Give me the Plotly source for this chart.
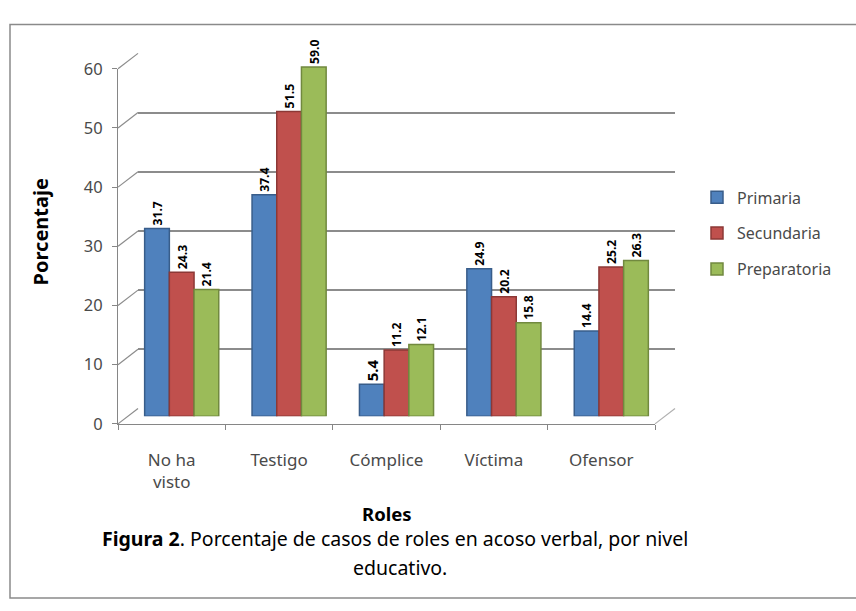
import plotly.graph_objects as go

W, H = 856, 611

categories = ["No ha<br>visto", "Testigo", "Cómplice", "Víctima", "Ofensor"]
primaria = [31.7, 37.4, 5.4, 24.9, 14.4]
secundaria = [24.3, 51.5, 11.2, 20.2, 25.2]
preparatoria = [21.4, 59.0, 12.1, 15.8, 26.3]
series_names = ["Primaria", "Secundaria", "Preparatoria"]
colors = ["#4F81BD", "#C0504D", "#9BBB59"]
edge_colors = ["#385D8A", "#8C3836", "#71893F"]
y_ticks = [0, 10, 20, 30, 40, 50, 60]


def px_x(x):
    return x / W


def px_y(y):
    return 1 - y / H


FONT = "Noto Sans"
GREY = "#4A4A4A"

fig = go.Figure()
# back wall gridlines (subplot xy, drawn first)
fig.add_trace(go.Scatter(x=categories, y=[None] * 5, xaxis="x", yaxis="y",
                         showlegend=False, hoverinfo="skip"))
# front axis (tick labels / categories)
fig.add_trace(go.Scatter(x=categories, y=[None] * 5, xaxis="x2", yaxis="y2",
                         showlegend=False, hoverinfo="skip"))
for name, vals, c, ec in zip(series_names, [primaria, secundaria, preparatoria], colors, edge_colors):
    fig.add_trace(go.Bar(
        x=categories, y=vals, name=name,
        marker=dict(color=c, line=dict(color=ec, width=1.5)),
        text=[f"{v:.1f}" for v in vals],
        textposition="outside", textangle=-90,
        textfont=dict(family=FONT, size=15, color="black", weight="bold"),
        cliponaxis=False,
        legendgroup=name,
        xaxis="x3", yaxis="y3",
    ))

fig.update_layout(
    width=W, height=H,
    margin=dict(l=0, r=0, t=0, b=0),
    paper_bgcolor="white", plot_bgcolor="rgba(0,0,0,0)",
    barmode="group", bargap=0.31, bargroupgap=0.0,
    font=dict(family=FONT, color=GREY),
    xaxis=dict(domain=[px_x(138), px_x(675)], range=[-0.5, 4.5], type="category",
               anchor="y", visible=False),
    yaxis=dict(domain=[px_y(412), px_y(43)], range=[0, 60], anchor="x",
               tickvals=y_ticks, showgrid=True, gridcolor="#8C8C8C", gridwidth=1.5,
               showticklabels=False, zeroline=False, showline=False, ticks=""),
    xaxis2=dict(domain=[px_x(118), px_x(655)], range=[-0.5, 4.5], type="category",
                anchor="y2", showline=True, linecolor="#868686",
                linewidth=1.2, ticks="outside", tickson="boundaries", ticklen=5,
                tickcolor="#868686", showgrid=False, zeroline=False,
                ticklabelstandoff=21,
                tickfont=dict(family=FONT, size=17, color=GREY)),
    yaxis2=dict(domain=[px_y(428), px_y(59)], range=[0, 60], anchor="x2",
                showline=True, linecolor="#868686", linewidth=1.2,
                ticks="outside", ticklen=5, tickcolor="#868686", tickvals=y_ticks,
                showgrid=False, zeroline=False, ticklabelstandoff=6,
                tickfont=dict(family=FONT, size=16.5, color=GREY)),
    xaxis3=dict(domain=[px_x(128), px_x(665)], range=[-0.5, 4.5], type="category",
                anchor="y3", visible=False),
    yaxis3=dict(domain=[px_y(420), px_y(51)], range=[0, 60], anchor="x3",
                visible=False),
    legend=dict(x=px_x(697), y=px_y(175), xanchor="left", yanchor="top",
                font=dict(family=FONT, size=16, color=GREY),
                tracegroupgap=12, traceorder="grouped", bgcolor="rgba(0,0,0,0)"),
)


# decorative 3D connectors (side wall and floor)
def front_y(v):
    return px_y(428) + (px_y(59) - px_y(428)) * v / 60


def back_y(v):
    return px_y(412) + (px_y(43) - px_y(412)) * v / 60


shapes = []
for v in y_ticks:
    shapes.append(dict(type="line", xref="paper", yref="paper", layer="below",
                       x0=px_x(118), y0=front_y(v), x1=px_x(138), y1=back_y(v),
                       line=dict(color="#8C8C8C", width=1.2)))
shapes.append(dict(type="line", xref="paper", yref="paper", layer="below",
                   x0=px_x(655), y0=front_y(0), x1=px_x(675), y1=back_y(0),
                   line=dict(color="#B0B0B0", width=1.2)))
shapes.append(dict(type="rect", xref="paper", yref="paper",
                   x0=px_x(10), y0=px_y(609), x1=px_x(860), y1=px_y(13),
                   line=dict(color="#8A8A8A", width=1.5)))
fig.update_layout(shapes=shapes)

annotations = [
    dict(text="<b>Porcentaje</b>", x=px_x(40), y=px_y(229), xref="paper", yref="paper",
         xanchor="center", yanchor="middle",
         textangle=-90, showarrow=False, font=dict(family=FONT, size=20, color="black")),
    dict(text="<b>Roles</b>", x=px_x(387), y=px_y(521), xref="paper", yref="paper",
         xanchor="center", yanchor="middle",
         showarrow=False, font=dict(family=FONT, size=18.5, color="black")),
    dict(text="<b>Figura 2</b>. Porcentaje de casos de roles en acoso verbal, por nivel",
         x=px_x(395), y=px_y(547), xref="paper", yref="paper",
         xanchor="center", yanchor="middle",
         showarrow=False, font=dict(family=FONT, size=19.5, color="black")),
    dict(text="educativo.", x=px_x(400), y=px_y(577), xref="paper", yref="paper",
         xanchor="center", yanchor="middle",
         showarrow=False, font=dict(family=FONT, size=19.5, color="black")),
]
fig.update_layout(annotations=annotations)

fig.write_html("out.html")
